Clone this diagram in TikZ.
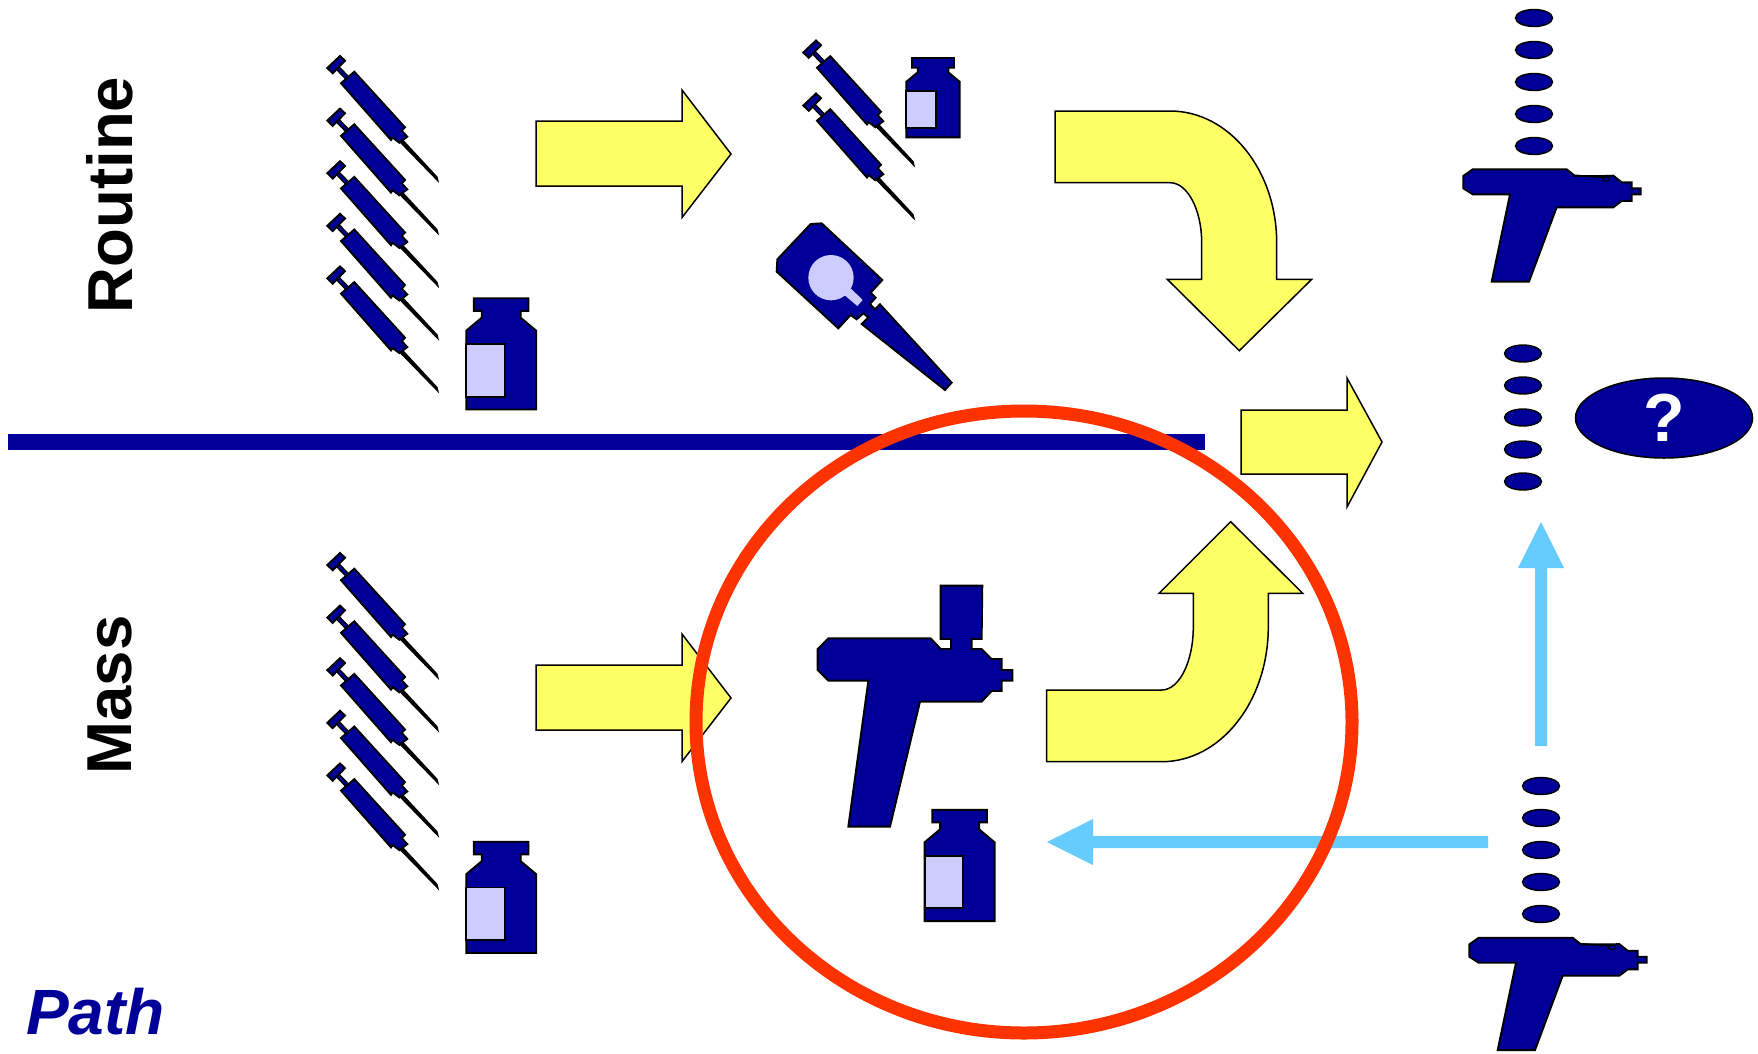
\documentclass[tikz,border=0pt]{standalone}
\usepackage{fontspec}
\usetikzlibrary{shapes.geometric}
\setmainfont{Liberation Sans}
\definecolor{navy}{HTML}{000099}
\definecolor{yel}{HTML}{FFFF66}
\definecolor{lilac}{HTML}{CCCCFF}
\definecolor{redc}{HTML}{FF3300}
\definecolor{sky}{HTML}{66CCFF}
\tikzset{
  part/.style={draw=black,fill=navy,line width=1.9pt,line join=miter},
  yarrow/.style={draw=black,fill=yel,line width=1.5pt,line join=miter},
  drop/.style={draw=black,fill=navy,line width=1.4pt,ellipse,minimum width=37pt,minimum height=17pt,inner sep=0pt},
  syringe/.pic={
    \draw[fill=black,line width=1.2pt] (402,139.3) -- (437,177) -- (438,181) -- (400,142) -- cycle;
    \draw[black,line width=5pt] (337,67.3) -- (347,77.7);
    \draw[navy,line width=2pt] (337,67.3) -- (347,77.7);
    \draw[part] (341,83.2) -- (354.3,71.7) -- (405,127.3) -- (401.7,130.7) -- (407.3,136.7) -- (399.3,142.7) -- (392.7,137.6) -- (391,140) -- cycle;
    \draw[part] (327.3,68) -- (340,56) -- (345,60.7) -- (332.7,73.3) -- cycle;
  },
  bottle/.pic={
    \draw[part] (473.8,298.2) -- (528.5,298.2) -- (528.5,310.8) -- (520.7,310.8) -- (520.7,317.7) -- (536.2,330.7) -- (536.2,409.5) -- (466.2,409.5) -- (466.2,330.7) -- (481.7,317.7) -- (481.7,310.8) -- (473.8,310.8) -- cycle;
    \draw[draw=black,fill=lilac,line width=1.9pt] (466.2,344) rectangle (505,396.7);
  },
  smallbottle/.pic={
    \draw[part] (912,58) -- (954,58) -- (954,67.7) -- (948.3,67.7) -- (948.3,72.3) -- (959.6,81.7) -- (959.6,137.3) -- (906.4,137.3) -- (906.4,81.7) -- (917.7,72.3) -- (917.7,67.7) -- (912,67.7) -- cycle;
    \draw[draw=black,fill=lilac,line width=1.9pt] (906.4,91) rectangle (936,128.3);
  },
  smallgun/.pic={
    \draw[part] (68,58) -- (350,58) -- (375,78) -- (460,78) -- (490,77) -- (515,97) -- (545,97) -- (545,115) -- (572,115) -- (572,133) -- (545,133) -- (545,153) -- (515,153) -- (490,172) -- (320,172) -- (237,395) -- (125,395) -- (180,133) -- (68,133) -- (40,115) -- (40,78) -- cycle;
    \draw[line width=1.6pt] (375,76) -- (465,83);
    \draw[line width=1pt] (468,87) ellipse [x radius=11,y radius=7];
  }
}
\begin{document}
\begin{tikzpicture}[x=1pt,y=-1pt]
\useasboundingbox (0,0) rectangle (1758,1053);
% syringes, upper and lower columns
\foreach \k in {0,1,2,3,4}{
  \pic at (0,{\k*52.6}) {syringe};
  \pic at (0,{497+\k*52.6}) {syringe};
}
\pic at (476,-15.5) {syringe};
\pic at (476,37.5) {syringe};
% bottles
\pic at (0,0) {bottle};
\pic at (0,543.5) {bottle};
\pic at (458.4,511.6) {bottle};
\pic at (0,0) {smallbottle};
% probe
\begin{scope}[shift={(760,200)},x=.3333pt,y=-.3333pt]
  \draw[part] (152,72) -- (185,70) -- (367,240) -- (332,278) -- (347,293) -- (330,312) -- (345,328) -- (360,313) -- (575,548) -- (555,570) -- (305,372) -- (325,352) -- (310,340) -- (290,358) -- (272,345) -- (235,385) -- (50,215) -- (52,178) -- cycle;
  \fill[lilac] (270,263) -- (308,300) -- (292,318) -- (253,285) -- cycle;
  \fill[lilac] (213,233) circle [radius=68];
\end{scope}
% big gun
\begin{scope}[shift={(800,570)},x=.3333pt,y=-.3333pt]
  \draw[part] (85,205) -- (392,205) -- (422,237) -- (453,237) -- (453,207) -- (422,207) -- (422,47) -- (547,47) -- (545,207) -- (515,207) -- (515,237) -- (545,237) -- (575,267) -- (605,267) -- (605,300) -- (637,300) -- (637,332) -- (605,332) -- (605,363) -- (575,363) -- (545,395) -- (360,395) -- (270,770) -- (145,770) -- (205,332) -- (85,332) -- (53,300) -- (53,237) -- cycle;
\end{scope}
% small guns
\begin{scope}[shift={(1450,150)},x=.3333pt,y=-.3333pt]
  \pic {smallgun};
\end{scope}
\begin{scope}[shift={(1456,918.4)},x=.3333pt,y=-.3333pt]
  \pic {smallgun};
\end{scope}
% divider
\fill[navy] (8,434) rectangle (1205,450);
% straight yellow arrows
\draw[yarrow] (536,121) -- (682,121) -- (682,90) -- (731,154) -- (682,217.5) -- (682,186) -- (536,186) -- cycle;
\draw[yarrow] (536,665) -- (682,665) -- (682,634) -- (731,698) -- (682,761.5) -- (682,730) -- (536,730) -- cycle;
\draw[yarrow] (1241,410) -- (1347,410) -- (1347,378) -- (1382,442) -- (1347,507) -- (1347,474) -- (1241,474) -- cycle;
% curved yellow arrows
\draw[yarrow] (1055,111) -- (1170,111) .. controls (1229,111) and (1276.7,170) .. (1276.7,243) -- (1276.7,279.3) -- (1311.7,279.3) -- (1239.3,350.7) -- (1167.3,279.3) -- (1201.7,279.3) -- (1201.7,243) .. controls (1201.7,209.7) and (1187.5,182.7) .. (1170,182.7) -- (1055,182.7) -- cycle;
\draw[yarrow] (1046.7,761.7) -- (1161.7,761.7) .. controls (1220.7,761.7) and (1268.3,701.3) .. (1268.3,626.7) -- (1268.3,593.3) -- (1302.7,593.3) -- (1230.7,521.7) -- (1159,593.3) -- (1193.3,593.3) -- (1193.3,626.7) .. controls (1193.3,661.7) and (1179.2,690) .. (1161.7,690) -- (1046.7,690) -- cycle;
% drops
\foreach \k in {0,1,2,3,4}{
  \node[drop] (ta\k) at (1534,{18+\k*32}) {};
  \node[drop] (mi\k) at (1523,{353.5+\k*32}) {};
  \node[drop] (lo\k) at (1541,{786+\k*32}) {};
}
% question
\node[draw=black,fill=navy,line width=1.5pt,ellipse,minimum width=177pt,minimum height=80pt,inner sep=0pt,text=white,font=\bfseries\fontsize{68}{70}\selectfont] (q) at (1664,418) {?};
% blue arrows
\fill[sky] (1535,746) -- (1535,568) -- (1518,568) -- (1541,522) -- (1564,568) -- (1547,568) -- (1547,746) -- cycle;
\fill[sky] (1488,836) -- (1093,836) -- (1093,819) -- (1047,842) -- (1093,865) -- (1093,848) -- (1488,848) -- cycle;
% red ellipse
\draw[redc,line width=13pt] (1024,722) ellipse [x radius=328,y radius=311];
% labels
\node[rotate=90,font=\bfseries\fontsize{63.5}{70}\selectfont,inner sep=0pt] (routine) at (110,195) {Routine};
\node[rotate=90,font=\bfseries\fontsize{63.5}{70}\selectfont,inner sep=0pt] (mass) at (110,695) {Mass};
\node[text=navy,font=\bfseries\itshape\fontsize{64}{70}\selectfont,inner sep=0pt] (path) at (95.5,1012) {Path};
\end{tikzpicture}
\end{document}
